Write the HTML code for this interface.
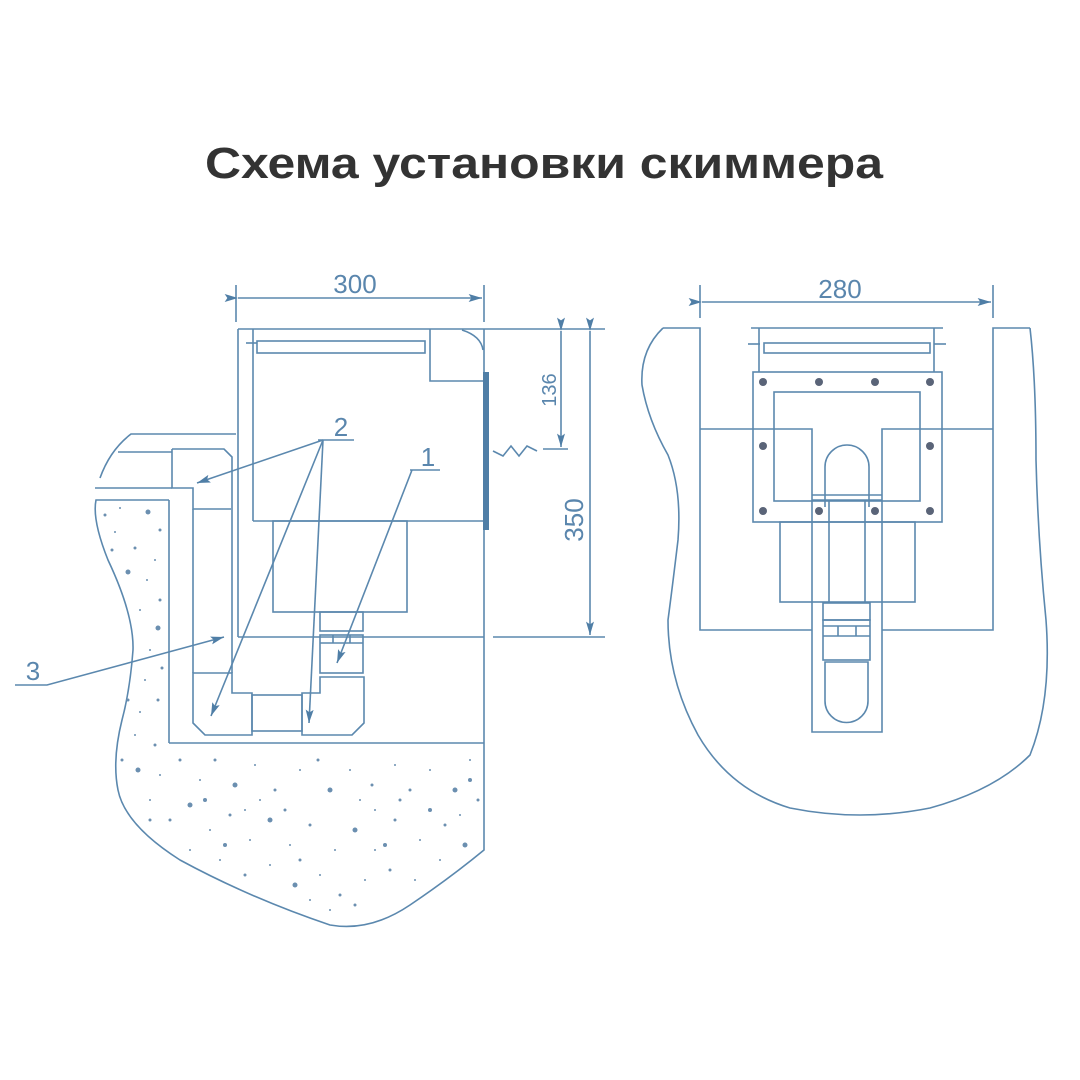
<!DOCTYPE html>
<html><head><meta charset="utf-8"><style>
html,body{margin:0;padding:0;background:#fff}
svg{display:block}
</style></head><body>
<svg width="1080" height="1080" viewBox="0 0 1080 1080" xmlns="http://www.w3.org/2000/svg">
<rect width="1080" height="1080" fill="#fff"/>
<text x="544" y="178" text-anchor="middle" font-family="Liberation Sans, sans-serif" font-weight="bold" font-size="44" fill="#333" textLength="678" lengthAdjust="spacingAndGlyphs">Схема установки скиммера</text>
<defs>
<marker id="ar" viewBox="0 0 10 6" refX="10" refY="3" markerWidth="18" markerHeight="8" markerUnits="userSpaceOnUse" orient="auto"><path d="M0,0 L10,3 L0,6 L2,3 z" fill="#4f7ea6"/></marker>
</defs>
<g fill="none" stroke="#5b88ae" stroke-width="1.6">
<line x1="236" y1="285" x2="236" y2="322"/><line x1="484" y1="285" x2="484" y2="322"/>
<line x1="238" y1="298" x2="482" y2="298" marker-start="url(#ar)" marker-end="url(#ar)"/>
<line x1="238" y1="329" x2="605" y2="329"/>
<line x1="238" y1="329" x2="238" y2="637"/>
<line x1="238" y1="637" x2="484" y2="637"/>
<line x1="484" y1="329" x2="484" y2="743"/>
<line x1="253" y1="329" x2="253" y2="521"/>
<line x1="253" y1="521" x2="484" y2="521"/>
<rect x="257" y="341" width="168" height="12"/>
<line x1="246" y1="343" x2="257" y2="343"/>
<path d="M430 329 V381 H484"/>
<path d="M462 330 Q481 336 483 350"/>
<rect x="273" y="521" width="134" height="91"/>
<rect x="320" y="612" width="43" height="19"/>
<rect x="320" y="635" width="43" height="38"/>
<line x1="320" y1="643" x2="363" y2="643"/>
<line x1="333" y1="635" x2="333" y2="643"/><line x1="350" y1="635" x2="350" y2="643"/>
<path d="M172 449 H224 L232 457 V673"/>
<path d="M172 449 V488 H193 V509 H231"/>
<line x1="193" y1="509" x2="193" y2="673"/>
<path d="M193 673 H232 V693 H252 V735 H205 L193 723 Z"/>
<rect x="252" y="695" width="50" height="36"/>
<path d="M302 735 V693 H320 V677 H364 V723 L352 735 Z"/>
<path d="M236 434 H131 Q110 450 100 478"/>
<line x1="95" y1="488" x2="172" y2="488"/>
<line x1="118" y1="452" x2="172" y2="452"/>
<line x1="169" y1="500" x2="169" y2="743"/>
<line x1="169" y1="743" x2="484" y2="743"/>
<path d="M169 500 H96 Q92 520 108 560 Q134 615 133 650 Q130 690 122 720 Q112 760 118 790 Q125 825 180 860 Q250 898 330 925 Q370 932 410 905 Q450 878 484 850 V743"/>
<rect x="483" y="372" width="6" height="158" fill="#4f7ea6" stroke="none"/>
<path d="M493 451 L503 456 L511 446 L519 456 L527 446 L537 451"/>
<line x1="543" y1="449" x2="568" y2="449"/>
<line x1="561" y1="331" x2="561" y2="447" marker-start="url(#ar)" marker-end="url(#ar)"/>
<line x1="493" y1="637" x2="605" y2="637"/>
<line x1="590" y1="331" x2="590" y2="635" marker-start="url(#ar)" marker-end="url(#ar)"/>
<line x1="318" y1="440" x2="354" y2="440"/>
<line x1="323" y1="440" x2="197" y2="483" marker-end="url(#ar)"/>
<line x1="323" y1="440" x2="211" y2="716" marker-end="url(#ar)"/>
<line x1="323" y1="440" x2="309" y2="723" marker-end="url(#ar)"/>
<line x1="410" y1="470" x2="440" y2="470"/>
<line x1="412" y1="470" x2="337" y2="663" marker-end="url(#ar)"/>
<path d="M15 685 H47 L224 637" marker-end="url(#ar)"/>

<line x1="700" y1="285" x2="700" y2="318"/><line x1="993" y1="285" x2="993" y2="318"/>
<line x1="702" y1="302" x2="991" y2="302" marker-start="url(#ar)" marker-end="url(#ar)"/>
<path d="M663 328 H700 V630 H812"/>
<path d="M1030 328 H993 V630 H882"/>
<path d="M700 429 H812 V732 H882 V429 H993"/>
<path d="M663 328 Q640 350 642 385 Q648 420 668 455 Q682 490 678 540 Q672 590 668 620 Q668 680 698 735 Q730 790 790 808 Q860 822 930 808 Q995 790 1030 755 Q1052 700 1046 620 Q1038 540 1036 460 Q1036 380 1030 328"/>
<line x1="751" y1="328" x2="943" y2="328"/>
<line x1="759" y1="328" x2="759" y2="372"/><line x1="934" y1="328" x2="934" y2="372"/>
<rect x="764" y="343" width="166" height="10"/>
<line x1="748" y1="344" x2="760" y2="344"/><line x1="934" y1="344" x2="946" y2="344"/>
<rect x="753" y="372" width="189" height="150"/>
<rect x="774" y="392" width="146" height="109"/>
<rect x="780" y="522" width="135" height="80"/>
<line x1="812" y1="500" x2="882" y2="500"/>
<line x1="812" y1="495" x2="882" y2="495"/>
<path d="M825 507 V467 A22 22 0 0 1 869 467 V507"/>
<line x1="829" y1="500" x2="829" y2="603"/><line x1="865" y1="500" x2="865" y2="603"/>
<rect x="823" y="603" width="47" height="17"/>
<rect x="823" y="620" width="47" height="40"/>
<line x1="823" y1="626" x2="870" y2="626"/><line x1="823" y1="636" x2="870" y2="636"/>
<line x1="838" y1="626" x2="838" y2="636"/><line x1="856" y1="626" x2="856" y2="636"/>
<path d="M825 662 V701 A21.5 21.5 0 0 0 868 701 V662 Z"/>
</g>
<g fill="#5a6478">
<circle cx="763" cy="382" r="4"/><circle cx="819" cy="382" r="4"/><circle cx="875" cy="382" r="4"/><circle cx="930" cy="382" r="4"/>
<circle cx="763" cy="446" r="4"/><circle cx="930" cy="446" r="4"/>
<circle cx="763" cy="511" r="4"/><circle cx="819" cy="511" r="4"/><circle cx="875" cy="511" r="4"/><circle cx="930" cy="511" r="4"/>
</g>
<g fill="#5a86ad" font-family="Liberation Sans, sans-serif" font-size="26">
<text x="355" y="293" text-anchor="middle">300</text>
<text x="840" y="298" text-anchor="middle">280</text>
<text x="341" y="436" text-anchor="middle">2</text>
<text x="428" y="466" text-anchor="middle">1</text>
<text x="33" y="680" text-anchor="middle">3</text>
<text transform="translate(556,390) rotate(-90)" text-anchor="middle" font-size="20">136</text>
<text transform="translate(583,520) rotate(-90)" text-anchor="middle">350</text>
</g>
<g fill="#6b8fb0">
<circle cx="105" cy="515" r="1.5"/><circle cx="120" cy="508" r="1"/><circle cx="148" cy="512" r="2.5"/><circle cx="160" cy="530" r="1.5"/><circle cx="115" cy="532" r="1"/>
<circle cx="135" cy="548" r="1.5"/><circle cx="155" cy="560" r="1"/><circle cx="128" cy="572" r="2.5"/><circle cx="147" cy="580" r="1"/><circle cx="160" cy="600" r="1.5"/>
<circle cx="140" cy="610" r="1"/><circle cx="158" cy="628" r="2.5"/><circle cx="150" cy="650" r="1"/><circle cx="162" cy="668" r="1.5"/><circle cx="145" cy="680" r="1"/>
<circle cx="158" cy="700" r="1.5"/><circle cx="140" cy="712" r="1"/><circle cx="128" cy="700" r="1.5"/><circle cx="135" cy="735" r="1"/><circle cx="155" cy="745" r="1.5"/>
<circle cx="122" cy="760" r="1.5"/><circle cx="138" cy="770" r="2.5"/><circle cx="160" cy="775" r="1"/><circle cx="180" cy="760" r="1.5"/><circle cx="200" cy="780" r="1"/>
<circle cx="215" cy="760" r="1.5"/><circle cx="235" cy="785" r="2.5"/><circle cx="255" cy="765" r="1"/><circle cx="275" cy="790" r="1.5"/><circle cx="300" cy="770" r="1"/>
<circle cx="318" cy="760" r="1.5"/><circle cx="330" cy="790" r="2.5"/><circle cx="350" cy="770" r="1"/><circle cx="372" cy="785" r="1.5"/><circle cx="395" cy="765" r="1"/>
<circle cx="410" cy="790" r="1.5"/><circle cx="430" cy="770" r="1"/><circle cx="455" cy="790" r="2.5"/><circle cx="470" cy="760" r="1"/><circle cx="478" cy="800" r="1.5"/>
<circle cx="150" cy="800" r="1"/><circle cx="170" cy="820" r="1.5"/><circle cx="190" cy="805" r="2.5"/><circle cx="210" cy="830" r="1"/><circle cx="230" cy="815" r="1.5"/>
<circle cx="250" cy="840" r="1"/><circle cx="270" cy="820" r="2.5"/><circle cx="290" cy="845" r="1"/><circle cx="310" cy="825" r="1.5"/><circle cx="335" cy="850" r="1"/>
<circle cx="355" cy="830" r="2.5"/><circle cx="375" cy="850" r="1"/><circle cx="395" cy="820" r="1.5"/><circle cx="420" cy="840" r="1"/><circle cx="445" cy="825" r="1.5"/>
<circle cx="465" cy="845" r="2.5"/><circle cx="220" cy="860" r="1"/><circle cx="245" cy="875" r="1.5"/><circle cx="270" cy="865" r="1"/><circle cx="295" cy="885" r="2.5"/>
<circle cx="320" cy="875" r="1"/><circle cx="340" cy="895" r="1.5"/><circle cx="365" cy="880" r="1"/><circle cx="390" cy="870" r="1.5"/><circle cx="415" cy="880" r="1"/>
<circle cx="330" cy="910" r="1"/><circle cx="355" cy="905" r="1.5"/><circle cx="310" cy="900" r="1"/><circle cx="440" cy="860" r="1"/><circle cx="190" cy="850" r="1"/>
<circle cx="260" cy="800" r="1"/><circle cx="285" cy="810" r="1.5"/><circle cx="360" cy="800" r="1"/><circle cx="400" cy="800" r="1.5"/><circle cx="460" cy="815" r="1"/>
<circle cx="205" cy="800" r="2"/><circle cx="245" cy="810" r="1"/><circle cx="385" cy="845" r="2"/><circle cx="430" cy="810" r="2"/><circle cx="470" cy="780" r="2"/>
<circle cx="225" cy="845" r="2"/><circle cx="300" cy="860" r="1.5"/><circle cx="375" cy="810" r="1"/><circle cx="150" cy="820" r="1.5"/><circle cx="112" cy="550" r="1.5"/>
</g>
</svg>
</body></html>
